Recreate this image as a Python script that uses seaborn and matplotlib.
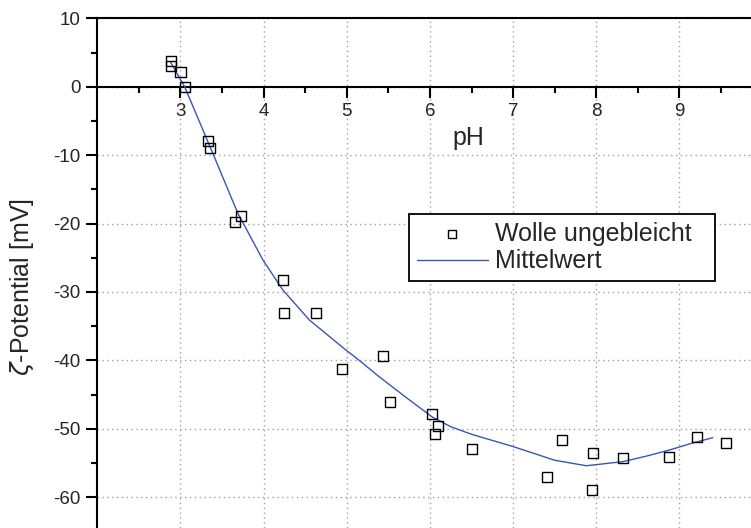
import numpy as np
import matplotlib
matplotlib.use('Agg')
import matplotlib.pyplot as plt
from matplotlib.ticker import MultipleLocator, FixedLocator
import seaborn as sns

# measured points (pH, zeta potential in mV)
ph_points = [2.88, 2.88, 3.00, 3.06, 3.33, 3.35, 3.65, 3.73, 4.23, 4.25, 4.63,
             4.94, 5.43, 5.52, 6.03, 6.06, 6.10, 6.51, 7.41, 7.59, 7.95, 7.96,
             8.32, 8.87, 9.21, 9.56]
zeta_points = [3.7, 3.07, 2.1, -0.05, -7.9, -9.0, -19.7, -18.9, -28.2, -33.1, -33.1,
               -41.2, -39.3, -46.1, -47.9, -50.7, -49.6, -53.0, -57.0, -51.7, -59.0, -53.6,
               -54.3, -54.1, -51.2, -52.1]

# mean curve
ph_mean = [2.88, 3.05, 3.37, 3.69, 3.99, 4.23, 4.39, 4.55, 4.97, 5.15, 5.39, 5.70,
           6.03, 6.25, 6.50, 7.00, 7.50, 7.88, 8.32, 8.60, 8.88, 9.15, 9.40]
zeta_mean = [3.6, 0.0, -9.2, -18.5, -25.3, -29.7, -31.9, -34.1, -38.3, -40.0, -42.4, -45.3,
             -48.3, -49.7, -50.8, -52.6, -54.6, -55.4, -54.8, -54.0, -53.1, -52.1, -51.3]

x_major = [3, 4, 5, 6, 7, 8, 9]
x_minor = [2.5, 3.5, 4.5, 5.5, 6.5, 7.5, 8.5, 9.5]

sns.set_style('white')
plt.rcParams['font.family'] = ['Liberation Sans', 'DejaVu Sans']
plt.rcParams['axes.unicode_minus'] = False

fig = plt.figure(figsize=(7.51, 5.28), dpi=100)
ax = fig.add_axes([0.1296, 0.0, 0.8704, 0.9653])

sns.lineplot(x=ph_mean, y=zeta_mean, ax=ax, sort=False, color='#3a55b4',
             linewidth=1.0, label='Mittelwert', zorder=3)
sns.scatterplot(x=ph_points, y=zeta_points, ax=ax, marker='s', s=52,
                facecolors='none', edgecolor='black', linewidth=1.0,
                label='Wolle ungebleicht', zorder=4)

ax.set_xlim(2, 9.86)
ax.set_ylim(-64.5, 10)

# spines: left + top, x-axis through zero
ax.spines['right'].set_visible(False)
ax.spines['bottom'].set_position(('data', 0))
for s in ['left', 'top', 'bottom']:
    ax.spines[s].set_linewidth(1.5)
    ax.spines[s].set_color('black')

ax.xaxis.set_major_locator(FixedLocator(x_major))
ax.xaxis.set_minor_locator(FixedLocator(x_minor))
ax.yaxis.set_major_locator(MultipleLocator(10))
ax.yaxis.set_minor_locator(MultipleLocator(5))

ax.tick_params(axis='both', which='major', direction='out', length=8, width=1.5,
               labelsize=13.5, pad=4, color='black')
ax.tick_params(axis='both', which='minor', direction='out', length=4, width=1.5,
               color='black')
ax.tick_params(axis='x', which='both', top=False, bottom=True)
ax.tick_params(axis='y', which='both', left=True, right=False)

ax.grid(True, which='major', color='#a0a0a0', linestyle=(0, (1, 2.5)), linewidth=1.0)
ax.set_axisbelow(True)

ax.set_xlabel('pH', fontsize=18)
ax.xaxis.set_label_coords(0.567, 0.789)
ax.set_ylabel(r'$\zeta$-Potential [mV]', fontsize=18)
ax.yaxis.set_label_coords(-0.094, 0.472)

# legend: marker entry first
handles, labels = ax.get_legend_handles_labels()
order = [labels.index('Wolle ungebleicht'), labels.index('Mittelwert')]
leg = ax.legend([handles[i] for i in order], [labels[i] for i in order],
                loc='upper left', bbox_to_anchor=(0.477, 0.486, 0.468, 0.13),
                mode='expand', borderaxespad=0,
                fontsize=18, frameon=True, fancybox=False, shadow=False,
                handlelength=2.85, handletextpad=0.3, borderpad=0.3,
                labelspacing=0.15, markerscale=0.8)
leg.get_frame().set_edgecolor('black')
leg.get_frame().set_linewidth(1.3)
leg.get_frame().set_alpha(1.0)

fig.savefig('out.png', dpi=100)
